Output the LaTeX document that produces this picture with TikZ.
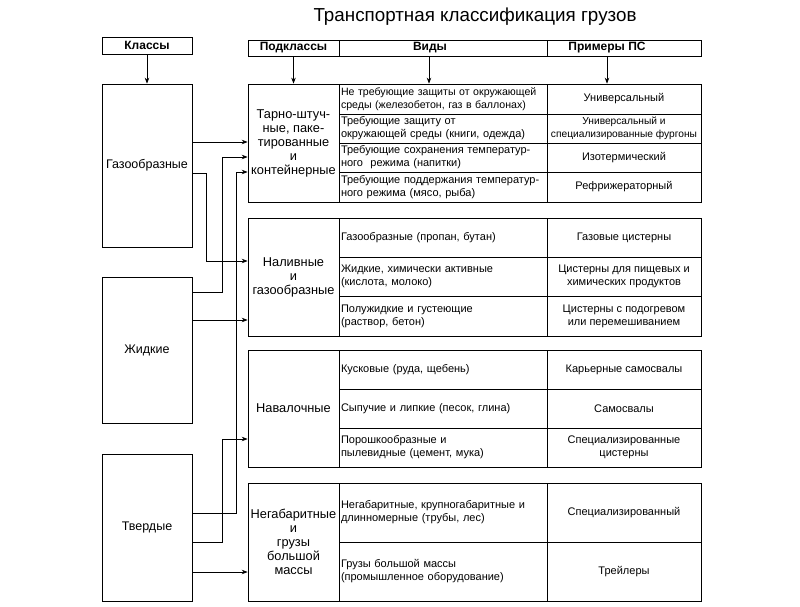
\documentclass[tikz,border=0pt]{standalone}
\usepackage{fontspec}
\setmainfont{Liberation Sans}
\usetikzlibrary{arrows.meta}

\begin{document}
\begin{tikzpicture}[x=1pt,y=-1pt,->,>={Stealth[length=6pt,width=4.5pt]},line width=0.7pt,
    cls box/.style={draw,minimum width=90pt,inner sep=1pt,font=\fontsize{12.5}{15}\selectfont},
    head/.style={draw,minimum height=16pt,inner sep=0pt,font=\bfseries\fontsize{12}{14}\selectfont},
    sub cell/.style={draw,minimum width=91pt,inner sep=1pt,align=center,font=\fontsize{12.8}{14}\selectfont},
    vid cell/.style={draw,text width=204pt,inner xsep=2pt,inner ysep=0pt,align=left,font=\fontsize{11}{13}\selectfont},
    ps cell/.style={draw,minimum width=154pt,inner xsep=0pt,inner ysep=0pt,align=center,font=\fontsize{11}{13}\selectfont}]
    \useasboundingbox (0,0) rectangle (800,607);

    \node (title) at (475,17) {\fontsize{18.8}{22}\selectfont Транспортная классификация грузов};

    % headers
    \node[head,minimum width=90pt,minimum height=17pt] (cls) at (147,45.5) {Классы};
    \node[head,minimum width=91pt] (sub) at (293.5,48) {Подклассы};
    \node[head,minimum width=208pt] (vid) at (443,48) {Виды\hspace*{26pt}};
    \node[head,minimum width=154pt] (ps) at (624,48) {Примеры ПС\hspace*{34pt}};

    % classes
    \node[cls box,minimum height=163pt] (gas) at (147,165.5) {Газообразные};
    \node[cls box,minimum height=146pt] (liq) at (147,350) {Жидкие};
    \node[cls box,minimum height=147pt] (sol) at (147,527.5) {Твердые};

    % group 1
    \node[sub cell,minimum height=118pt] (p1) at (293.5,143) {Тарно-штуч-\\ные, паке-\\тированные\\и\\контейнерные};
    \node[vid cell,minimum height=30pt,font=\fontsize{10.6}{13}\selectfont] (v11) at (443,99) {Не требующие защиты от окружающей\\среды (железобетон, газ в баллонах)};
    \node[vid cell,minimum height=29pt] (v12) at (443,128.5) {Требующие защиту от\\окружающей среды (книги, одежда)};
    \node[vid cell,minimum height=29pt] (v13) at (443,157.5) {Требующие сохранения температур-\\ного\ \ режима (напитки)};
    \node[vid cell,minimum height=30pt] (v14) at (443,187) {Требующие поддержания температур-\\ного режима (мясо, рыба)};
    \node[ps cell,minimum height=30pt] (e11) at (624,99) {Универсальный};
    \node[ps cell,minimum height=29pt,font=\fontsize{10.2}{13}\selectfont] (e12) at (624,128.5) {Универсальный и\\специализированные фургоны};
    \node[ps cell,minimum height=29pt] (e13) at (624,157.5) {Изотермический};
    \node[ps cell,minimum height=30pt] (e14) at (624,187) {Рефрижераторный};

    % group 2
    \node[sub cell,minimum height=118pt] (p2) at (293.5,277) {Наливные\\и\\газообразные};
    \node[vid cell,minimum height=39pt] (v21) at (443,237.5) {Газообразные (пропан, бутан)};
    \node[vid cell,minimum height=39pt] (v22) at (443,276.5) {Жидкие, химически активные\\(кислота, молоко)};
    \node[vid cell,minimum height=40pt] (v23) at (443,316) {Полужидкие и густеющие\\(раствор, бетон)};
    \node[ps cell,minimum height=39pt] (e21) at (624,237.5) {Газовые цистерны};
    \node[ps cell,minimum height=39pt] (e22) at (624,276.5) {Цистерны для пищевых и\\химических продуктов};
    \node[ps cell,minimum height=40pt] (e23) at (624,316) {Цистерны с подогревом\\или перемешиванием};

    % group 3
    \node[sub cell,minimum height=117pt] (p3) at (293.5,408.5) {Навалочные};
    \node[vid cell,minimum height=39pt] (v31) at (443,369.5) {Кусковые (руда, щебень)};
    \node[vid cell,minimum height=39pt] (v32) at (443,408.5) {Сыпучие и липкие (песок, глина)};
    \node[vid cell,minimum height=39pt] (v33) at (443,447.5) {Порошкообразные и\\пылевидные (цемент, мука)};
    \node[ps cell,minimum height=39pt] (e31) at (624,369.5) {Карьерные самосвалы};
    \node[ps cell,minimum height=39pt] (e32) at (624,408.5) {Самосвалы};
    \node[ps cell,minimum height=39pt] (e33) at (624,447.5) {Специализированные\\цистерны};

    % group 4
    \node[sub cell,minimum height=118pt] (p4) at (293.5,542) {Негабаритные\\и\\грузы\\большой\\массы};
    \node[vid cell,minimum height=59pt] (v41) at (443,512.5) {Негабаритные, крупногабаритные и\\длинномерные (трубы, лес)};
    \node[vid cell,minimum height=59pt] (v42) at (443,571.5) {Грузы большой массы\\(промышленное оборудование)};
    \node[ps cell,minimum height=59pt] (e41) at (624,512.5) {Специализированный};
    \node[ps cell,minimum height=59pt] (e42) at (624,571.5) {Трейлеры};

    \path
        (cls) edge (gas)
        (sub) edge (p1)
        ([xshift=-14pt]vid.south) edge ([xshift=-14pt]v11.north)
        ([xshift=-17pt]ps.south) edge ([xshift=-17pt]e11.north)
        ;

    % class -> subclass
    \draw ([yshift=23.5pt]gas.east) -- ([yshift=1pt]p1.west);
    \draw ([yshift=-7.5pt]gas.east) -- ++(14pt,0) |- ([yshift=16pt]p2.west);
    \draw ([yshift=58pt]liq.east) -- ++(30pt,0) |- ([yshift=-14pt]p1.west);
    \draw ([yshift=30pt]liq.east) -- ([yshift=-43pt]p2.west);
    \draw ([yshift=14.5pt]sol.east) -- ++(44pt,0) |- ([yshift=-29pt]p1.west);
    \draw ([yshift=-14.5pt]sol.east) -- ++(30pt,0) |- ([yshift=-30.5pt]p3.west);
    \draw ([yshift=-44.5pt]sol.east) -- ([yshift=-30pt]p4.west);
\end{tikzpicture}
\end{document}
